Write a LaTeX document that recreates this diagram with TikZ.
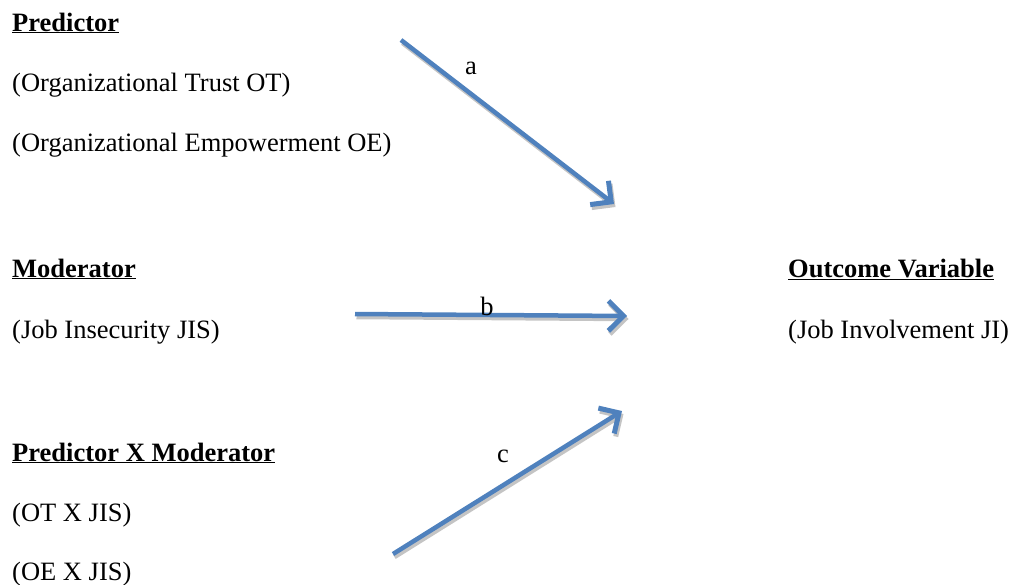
\documentclass[tikz,border=0pt]{standalone}
\usepackage{fontspec}
\setmainfont{Liberation Serif}
\usetikzlibrary{arrows.meta}
\definecolor{arrowblue}{HTML}{4F81BD}
\definecolor{shadowgray}{HTML}{C4C4C4}
\tikzset{
  txt/.style = {anchor=base west, inner sep=0pt, font=\fontsize{26.5}{30}\selectfont},
  head/.style = {txt, font=\fontsize{26.5}{30}\selectfont\bfseries},
  lbl/.style = {inner sep=0pt, font=\fontsize{26.5}{30}\selectfont},
  link/.style = {arrowblue, line width=4.5pt, -{Straight Barb[length=15pt, width=30pt, line width=5pt]}},
  linkshadow/.style = {shadowgray, line width=4.5pt, -{Straight Barb[length=15pt, width=30pt, line width=5pt]}, transform canvas={shift={(1.5pt,-3pt)}}}
}
\begin{document}
\begin{tikzpicture}[x=1pt, y=-1pt]
  \useasboundingbox (0,0) rectangle (1011,584);

  \node[head] at (12,31) (Pred) {\underline{Predictor}};
  \node[txt] at (12,91) (OT) {(Organizational Trust OT)};
  \node[txt] at (12,151) (OE) {(Organizational Empowerment OE)};

  \node[head] at (12,277) (Mod) {\underline{Moderator}};
  \node[txt] at (12,338) (JIS) {(Job Insecurity JIS)};

  \node[head] at (12,461) (PxM) {\underline{Predictor X Moderator}};
  \node[txt] at (12,521) (OTxJIS) {(OT X JIS)};
  \node[txt] at (12,580) (OExJIS) {(OE X JIS)};

  \node[head] at (788,277) (Out) {\underline{Outcome Variable}};
  \node[txt] at (788,338) (JI) {(Job Involvement JI)};

  \coordinate (a1) at (401,40);
  \coordinate (a2) at (614,204);
  \coordinate (b1) at (355,314);
  \coordinate (b2) at (627,316);
  \coordinate (c1) at (393,554);
  \coordinate (c2) at (622,411);

  \draw[linkshadow] (a1) -- (a2);
  \draw[linkshadow] (b1) -- (b2);
  \draw[linkshadow] (c1) -- (c2);

  \draw[link] (a1) -- (a2);
  \draw[link] (b1) -- (b2);
  \draw[link] (c1) -- (c2);

  \node[lbl] at (471,68) (la) {a};
  \node[lbl] at (487,306) (lb) {b};
  \node[lbl] at (503,456) (lc) {c};
\end{tikzpicture}
\end{document}
